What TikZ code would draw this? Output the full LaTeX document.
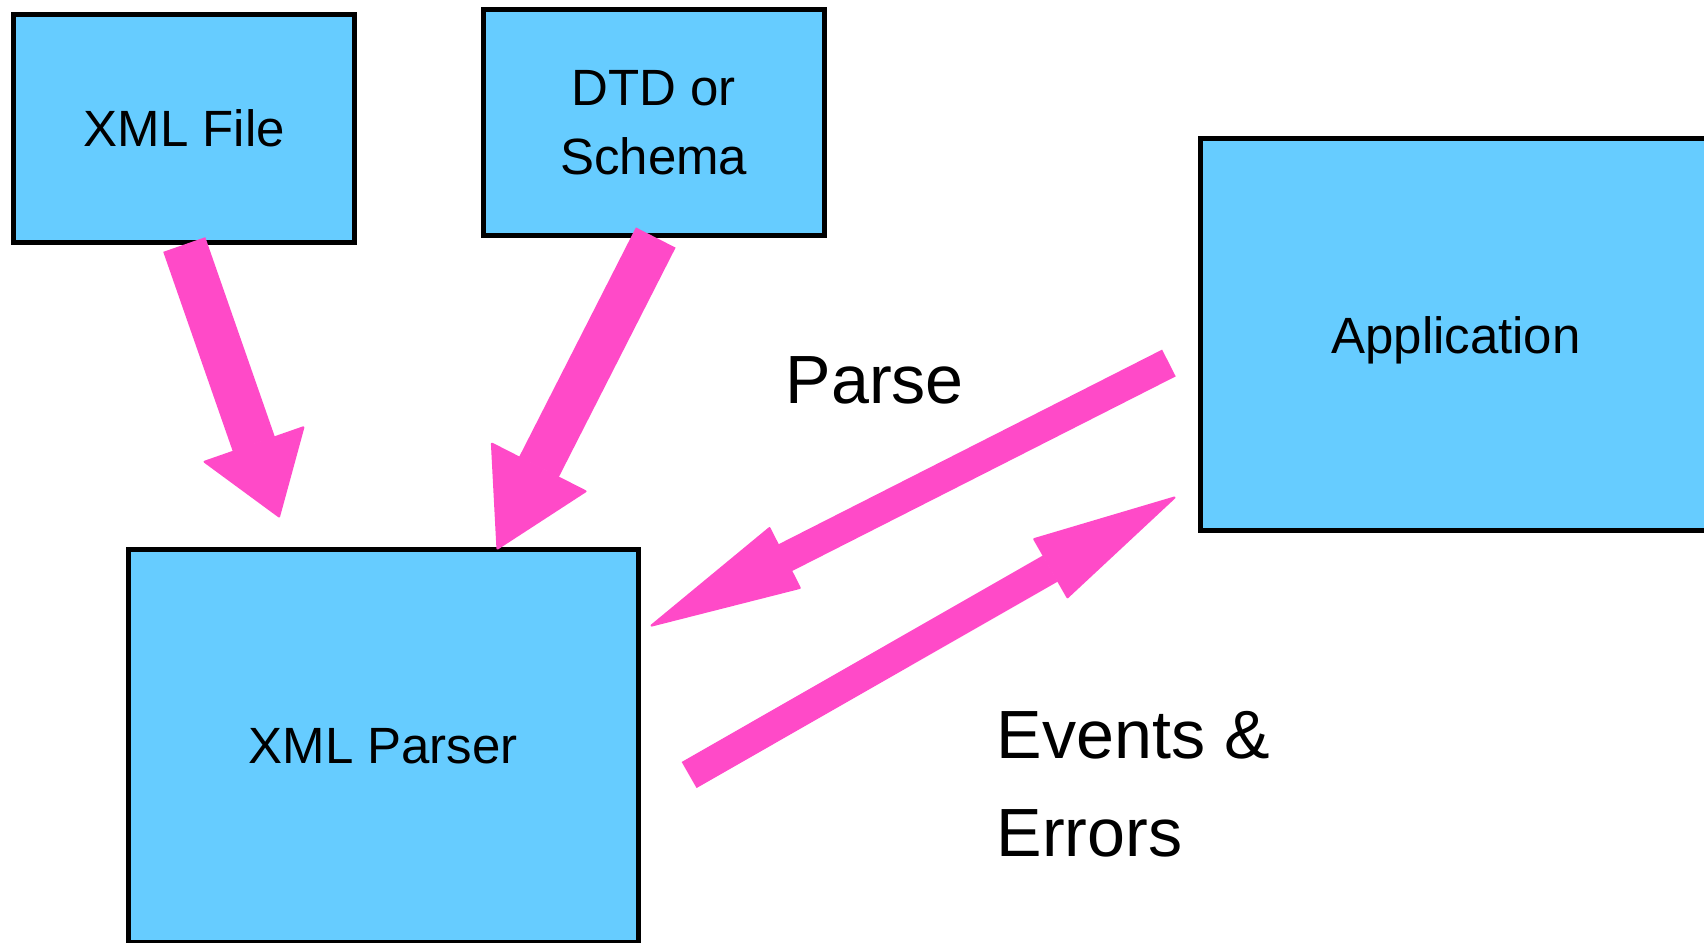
\documentclass[tikz,border=0pt]{standalone}
\usepackage{fontspec}
\setmainfont{Liberation Sans}
\usetikzlibrary{arrows.meta,calc}
\definecolor{boxblue}{RGB}{102,204,255}
\definecolor{flowpink}{RGB}{255,74,200}

\begin{document}
\begin{tikzpicture}[x=0.01cm,y=-0.01cm,
	block/.style={draw=black,line width=1.4pt,fill=boxblue,inner sep=0pt,text depth=0pt,align=center,font=\fontsize{14.5}{19.6}\selectfont},
	bigflow/.style={draw=flowpink,line width=0.445cm,-{Triangle[round,line width=0.6pt,width=1.08cm,length=#1]}},
	thinflow/.style={draw=flowpink,line width=0.30cm,-{Triangle[round,line width=0.6pt,width=0.69cm,length=#1]}},
	caption/.style={anchor=base west,inner sep=0pt,align=left,font=\fontsize{19.4}{27.6}\selectfont}]
			\clip (0,0) rectangle (1704,942);
			\useasboundingbox (0,0) rectangle (1704,942);
			% boxes
			\node[block,minimum width=3.405cm,minimum height=2.27cm] (xmlfile) at (184.25,128.5) {XML File};
			\node[block,minimum width=3.405cm,minimum height=2.255cm] (dtd) at (653.75,122.25) {DTD or\\Schema};
			\node[block,minimum width=5.095cm,minimum height=3.92cm] (parser) at (383.25,746) {XML Parser};
			\node[block,minimum width=5.1cm,minimum height=3.915cm] (app) at (1456,334.75) {Application};
			% arrow ends
			\coordinate (filetip) at ($(parser.north west)+(153.5,-30)$);
			\coordinate (dtdtip) at ($(parser.north)+(113.75,2)$);
			\coordinate (parsetail) at ($(app.west)+(-29.5,28.25)$);
			\coordinate (parsetip) at ($(parser.east)+(10,-120)$);
			\coordinate (eventtail) at ($(parser.east)+(48.5,29)$);
			\coordinate (eventtip) at ($(app.west)+(-23,162.25)$);
			% arrows
			\draw[bigflow=0.79cm] (xmlfile.south) -- (filetip);
			\draw[bigflow=0.94cm] ($(dtd.south)+(2,0)$) -- (dtdtip);
			\draw[thinflow=1.55cm] (parsetail) -- (parsetip);
			\draw[thinflow=1.48cm] (eventtail) -- (eventtip);
			% labels (base is the last line)
			\node[caption] (parselabel) at (785,403) {Parse};
			\node[caption] (eventlabel) at (996,856) {Events \&\\Errors};
\end{tikzpicture}
\end{document}
